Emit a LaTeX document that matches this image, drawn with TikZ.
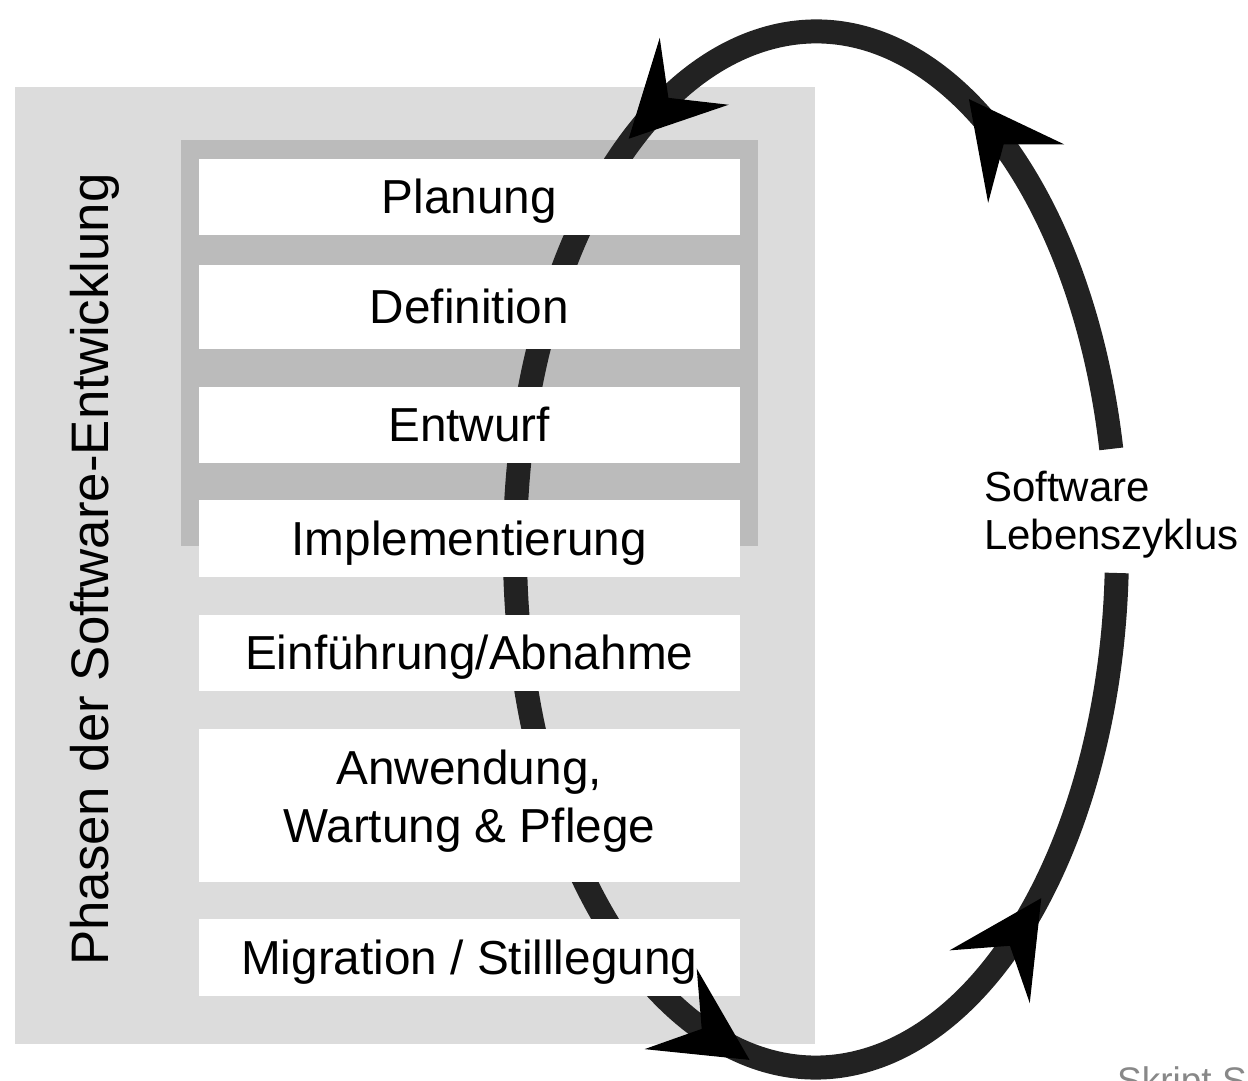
\documentclass[tikz,border=0pt]{standalone}
\usepackage{fontspec}
\setmainfont{Liberation Sans}
\definecolor{bgl}{HTML}{DCDCDC}
\definecolor{bgd}{HTML}{BBBBBB}
\definecolor{cyc}{HTML}{222222}
\definecolor{skr}{HTML}{888888}
\begin{document}
\begin{tikzpicture}[x=1pt,y=1pt,
  phase/.style={fill=white, inner sep=0pt, minimum width=541.5pt,
    text height=34pt, text depth=0pt, font=\fontsize{47.7}{57}\selectfont},
  lbl/.style={inner sep=0pt, font=\fontsize{47.7}{57}\selectfont},
  cyclab/.style={inner sep=0pt, anchor=base west, font=\fontsize{42}{48}\selectfont},
  cycline/.style={draw=cyc, line width=24pt},
  ahead/.style={fill=black}]
\useasboundingbox (0,0) rectangle (1248,1080);
% backgrounds
\fill[bgl] (15,36) rectangle (815,993);
\fill[bgd] (181,534) rectangle (758,940);
% life cycle ellipse (gap for label on the right)
\draw[cycline] (816,530.5) ++(11.2:301 and 518)
  arc[start angle=11.2, end angle=357.4, x radius=301, y radius=518];
% phase boxes
\node[phase, minimum height=76] (plan) at (469.25,883) {Planung};
\node[phase, minimum height=84] (defi) at (469.25,773) {Definition};
\node[phase, minimum height=76] (entw) at (469.25,655) {Entwurf};
\node[phase, minimum height=77] (impl) at (469.25,541.5) {Implementierung};
\node[phase, minimum height=76] (einf) at (469.25,427) {Einführung/Abnahme};
\node[phase, minimum height=153, text height=0pt] (anw) at (469.25,274.5) {};
\node[lbl, anchor=base] (anw1) at (469.25,295) {Anwendung,};
\node[lbl, anchor=base] (anw2) at (469.25,237) {Wartung \& Pflege};
\node[phase, minimum height=77] (migr) at (469.25,122.5) {Migration / Stilllegung};
% arrow heads on the cycle
\foreach \t in {52.9,120.9,249.4,311.5}{
  \pgfmathsetmacro\ang{atan2(518*cos(\t),-301*sin(\t))}
  \fill[ahead, shift={({816+301*cos(\t)},{530.5+518*sin(\t)})}, rotate=\ang]
    (47,0) -- (-47,48) -- (-10,0) -- (-47,-48) -- cycle;
}
% labels
\node[rotate=90, anchor=base, inner sep=0pt, font=\fontsize{52.8}{60}\selectfont]
  (phasen) at (108,510.5) {Phasen der Software-Entwicklung};
\node[cyclab] (sw) at (984,578) {Software};
\node[cyclab] (lz) at (984,530) {Lebenszyklus};
\node[inner sep=0pt, anchor=base west, text=skr, font=\fontsize{37}{40}\selectfont]
  (skript) at (1117,-13.5) {Skript S};
\end{tikzpicture}
\end{document}
